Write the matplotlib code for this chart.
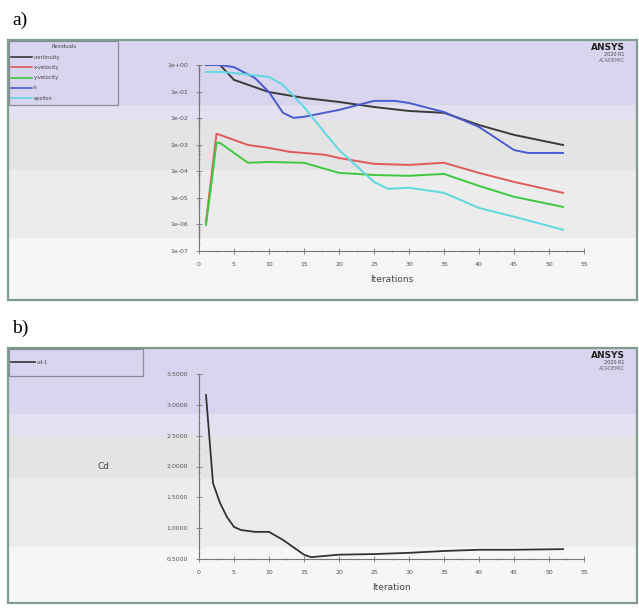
import numpy as np
import matplotlib
matplotlib.use("Agg")
import matplotlib.pyplot as plt
from matplotlib.patches import Rectangle

# --- data ---
# a) scaled residuals, stored as log10 values
cont_x = [1, 3, 5, 10, 15, 20, 25, 30, 35, 40, 45, 52]
cont_log = [0, 0, -0.56, -1.02, -1.24, -1.39, -1.58, -1.73, -1.80, -2.26, -2.63, -3.01]

k_x = [1, 3, 5, 8, 10, 12, 13.5, 15, 20, 25, 28, 30, 35, 40, 45, 47, 52]
k_log = [0, 0, -0.08, -0.49, -1.02, -1.80, -1.99, -1.95, -1.69, -1.35, -1.35,
         -1.43, -1.77, -2.33, -3.20, -3.31, -3.31]

eps_x = [1, 3, 5, 10, 12, 15, 18, 20, 22, 25, 27, 30, 35, 40, 45, 52]
eps_log = [-0.26, -0.26, -0.30, -0.45, -0.75, -1.58, -2.56, -3.20, -3.68, -4.40,
           -4.66, -4.62, -4.81, -5.38, -5.71, -6.20]

xvel_x = [1, 2.5, 3, 5, 7, 10, 13, 15, 18, 20, 25, 30, 35, 40, 45, 52]
xvel_log = [-5.90, -2.59, -2.63, -2.82, -3.01, -3.12, -3.27, -3.31, -3.38, -3.50,
            -3.72, -3.76, -3.68, -4.06, -4.40, -4.81]

yvel_x = [1, 2.5, 3, 5, 7, 10, 15, 20, 25, 30, 35, 40, 45, 52]
yvel_log = [-6.02, -2.93, -2.93, -3.31, -3.68, -3.65, -3.68, -4.06, -4.14, -4.17,
            -4.10, -4.55, -4.96, -5.34]

res_names = ["continuity", "x-velocity", "y-velocity", "k", "epsilon"]
res_colors = ["#3a3a3a", "#e05a5a", "#3ec83e", "#4a5ad0", "#5fd8e0"]

res_ticks = [1e-07, 1e-06, 1e-05, 1e-04, 1e-03, 1e-02, 1e-01, 1e+00]
res_ticklabels = ["1e-07", "1e-06", "1e-05", "1e-04", "1e-03", "1e-02", "1e-01", "1e+00"]

# b) drag coefficient
cd_x = [1, 2, 3, 4, 5, 6, 8, 10, 12, 14, 15, 16, 20, 25, 30, 35, 40, 45, 52]
cd_y = [3.16, 1.73, 1.41, 1.18, 1.02, 0.97, 0.94, 0.94, 0.81, 0.65, 0.57, 0.53,
        0.57, 0.58, 0.60, 0.63, 0.65, 0.65, 0.66]
cd_ticks = [0.5, 1.0, 1.5, 2.0, 2.5, 3.0, 3.5]

x_ticks = list(range(0, 60, 5))

W, H = 639, 608
fig = plt.figure(figsize=(W / 100, H / 100), dpi=100)
fig.patch.set_facecolor("white")


def px_axes(l, t, r, b, **kw):
    return fig.add_axes([l / W, 1 - b / H, (r - l) / W, (b - t) / H], **kw)


# background: frames, colour bands, legends, logo
bg = px_axes(0, 0, W, H)
bg.set_xlim(0, W)
bg.set_ylim(H, 0)
bg.axis("off")


def panel(top, bottom, bands):
    for y0, y1, c in bands:
        bg.add_patch(Rectangle((8, y0), 629, y1 - y0, fc=c, ec="none"))
    bg.add_patch(Rectangle((8, top), 629, bottom - top, fc="none", ec="#7f9c8c", lw=1.6))
    bg.text(625, top + 8, "ANSYS", ha="right", va="center", fontsize=6.5,
            fontweight="bold", color="#222222")
    bg.text(625, top + 15, "2020 R1", ha="right", va="center", fontsize=3.5, color="#444444")
    bg.text(625, top + 21, "ACADEMIC", ha="right", va="center", fontsize=3.5, color="#666666")


panel(40, 300, [(40, 105, "#d9d5ef"), (105, 120, "#e3e1f1"), (120, 170, "#e4e4e4"),
                (170, 238, "#ececec"), (238, 300, "#f6f6f6")])
panel(348, 603, [(348, 414, "#d9d5ef"), (414, 436, "#e3e1f1"), (436, 478, "#e4e4e4"),
                 (478, 547, "#ececec"), (547, 603, "#f6f6f6")])

bg.text(12, 20, "a)", fontsize=14, family=["Liberation Serif", "DejaVu Serif"], va="center")
bg.text(12, 328, "b)", fontsize=14, family=["Liberation Serif", "DejaVu Serif"], va="center")

# legend a
bg.add_patch(Rectangle((9, 41), 109, 64, fc="none", ec="#8a8a99", lw=0.9))
bg.text(64, 47, "Residuals", ha="center", va="center", fontsize=3.8, color="#444444")
for i, (name, c) in enumerate(zip(res_names, res_colors)):
    yy = 57 + i * 10.3
    bg.plot([11, 32], [yy, yy], color=c, lw=1.2)
    bg.text(34, yy, name, va="center", fontsize=3.8, color="#444444")

# legend b
bg.add_patch(Rectangle((9, 349), 134, 27, fc="none", ec="#8a8a99", lw=0.9))
bg.plot([11, 35], [362, 362], color="#333333", lw=1.2)
bg.text(37, 362, "cd-1", va="center", fontsize=3.8, color="#444444")


def style(ax):
    ax.patch.set_alpha(0)
    for s in ["top", "right"]:
        ax.spines[s].set_visible(False)
    for s in ["left", "bottom"]:
        ax.spines[s].set_color("#777777")
        ax.spines[s].set_linewidth(0.8)
    ax.tick_params(which="major", direction="inout", length=4, width=0.6,
                   colors="#777777", labelsize=4.5, labelcolor="#555555", pad=6)
    ax.tick_params(which="minor", direction="inout", length=2, width=0.5, colors="#888888")
    ax.set_xlim(0, 55)
    ax.set_xticks(x_ticks)
    ax.set_xticks(np.arange(0, 56, 2.5), minor=True)


# a) residuals
ax1 = px_axes(199, 65, 584, 251)
ax1.set_yscale("log")
series = [(cont_x, cont_log), (xvel_x, xvel_log), (yvel_x, yvel_log), (k_x, k_log), (eps_x, eps_log)]
for (xs, ls), c in zip(series, res_colors):
    ax1.plot(xs, 10.0 ** np.array(ls), color=c, lw=1.4)
style(ax1)
ax1.set_ylim(1e-07, 1e+00)
ax1.set_yticks(res_ticks)
ax1.set_yticklabels(res_ticklabels)
ax1.set_xlabel("Iterations", fontsize=6.5, color="#444444", labelpad=6)

# b) Cd
ax2 = px_axes(199, 374, 584, 559)
ax2.plot(cd_x, cd_y, color="#333333", lw=1.3)
style(ax2)
ax2.set_ylim(0.5, 3.5)
ax2.set_yticks(cd_ticks)
ax2.set_yticklabels([f"{v:.4f}" for v in cd_ticks])
ax2.set_yticks(np.arange(0.5, 3.51, 0.1), minor=True)
ax2.set_xlabel("Iteration", fontsize=6.5, color="#444444", labelpad=6)
ax2.set_ylabel("Cd", fontsize=6.5, color="#444444", rotation=0, labelpad=45, va="center")

fig.savefig("out.png", dpi=100)
